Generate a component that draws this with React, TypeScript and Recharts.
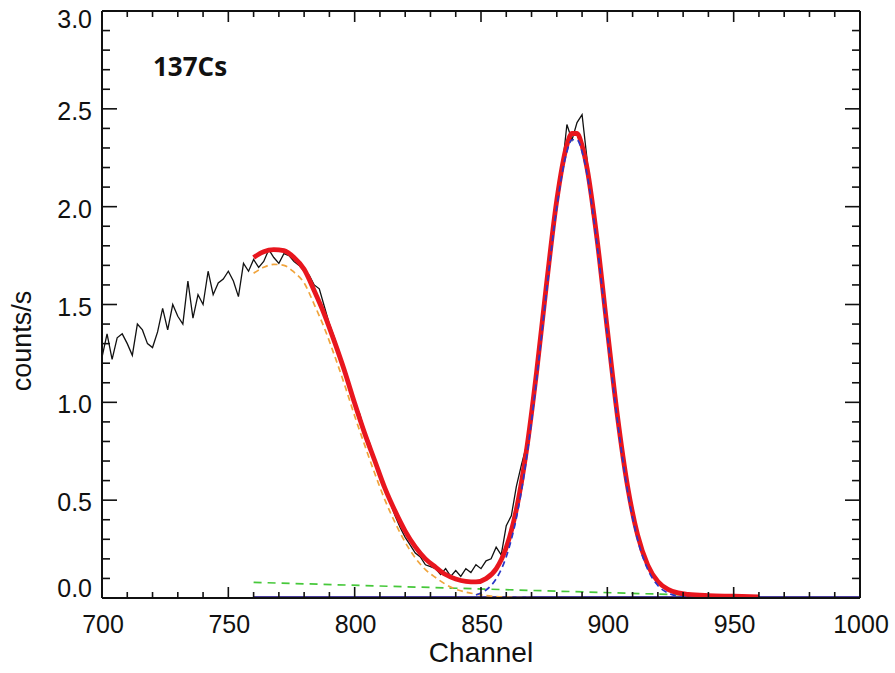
import React from "react";
import { Line, LineChart, XAxis, YAxis } from "recharts";

// measured spectrum, channels 700..960 every 2 channels
const countsStart = 700;
const countsStep = 2;
const counts = [
  1.23, 1.35, 1.22, 1.33, 1.35, 1.3, 1.24, 1.4, 1.37, 1.3,
  1.28, 1.36, 1.48, 1.37, 1.5, 1.44, 1.4, 1.62, 1.43, 1.55,
  1.5, 1.67, 1.55, 1.61, 1.63, 1.67, 1.62, 1.54, 1.71, 1.67,
  1.73, 1.69, 1.72, 1.78, 1.74, 1.71, 1.76, 1.75, 1.72, 1.7,
  1.67, 1.65, 1.6, 1.58, 1.49, 1.4, 1.33, 1.25, 1.17, 1.08,
  1.0, 0.94, 0.85, 0.79, 0.7, 0.63, 0.55, 0.49, 0.42, 0.36,
  0.31, 0.27, 0.23, 0.21, 0.17, 0.16, 0.15, 0.12, 0.15, 0.11,
  0.14, 0.11, 0.15, 0.13, 0.17, 0.15, 0.19, 0.2, 0.26, 0.22,
  0.37, 0.42, 0.57, 0.68, 0.78, 0.98, 1.15, 1.4, 1.6, 1.82,
  2.0, 2.18, 2.42, 2.34, 2.43, 2.47, 2.24, 1.97, 1.84, 1.6,
  1.4, 1.16, 0.95, 0.73, 0.58, 0.44, 0.32, 0.23, 0.16, 0.12,
  0.08, 0.06, 0.04, 0.03, 0.02, 0.02, 0.01, 0.01, 0.01, 0.0,
  0.01, 0.0, 0.0, 0.01, 0.0, 0.0, 0.0, 0.0, 0.0, 0.0,
  0.0,
];

// total fit (red)
const fitCh = [
  760, 764, 768, 772, 776, 780, 784, 788, 792, 796,
  800, 804, 808, 812, 816, 820, 824, 828, 832, 836,
  840, 844, 848, 852, 856, 860, 864, 868, 872, 876,
  880, 884, 886, 888, 890, 892, 896, 900, 904, 908,
  912, 916, 920, 924, 928, 932, 940, 950, 960,
];
const fitVals = [
  1.74, 1.77, 1.78, 1.775, 1.74, 1.68, 1.57, 1.45, 1.31, 1.16,
  0.995, 0.84, 0.7, 0.56, 0.444, 0.342, 0.261, 0.2, 0.158, 0.12,
  0.097, 0.085, 0.082, 0.099, 0.149, 0.258, 0.452, 0.754, 1.155, 1.612,
  2.033, 2.315, 2.375, 2.374, 2.312, 2.195, 1.827, 1.372, 0.931, 0.572,
  0.321, 0.168, 0.084, 0.044, 0.026, 0.019, 0.0125, 0.009, 0.005,
];

// compton edge component (orange dashed)
const comptonCh = [
  760, 764, 768, 772, 776, 780, 784, 788, 792, 796,
  800, 804, 808, 812, 816, 820, 824, 828, 832, 836,
  840, 844, 848, 852, 856, 860, 866, 875, 900, 930, 960,
];
const comptonVals = [
  1.66, 1.69, 1.705, 1.7, 1.665, 1.61, 1.5, 1.38, 1.24, 1.09,
  0.93, 0.78, 0.635, 0.5, 0.385, 0.285, 0.205, 0.145, 0.105, 0.07,
  0.045, 0.03, 0.02, 0.012, 0.007, 0.004, 0.002, 0.001, 0, 0, 0,
];

// photopeak gaussian (blue dashed)
const peakCh = [
  848, 852, 856, 860, 864, 868, 872, 876, 880, 884,
  886, 888, 890, 892, 896, 900, 904, 908, 912, 916,
  920, 924, 928, 932, 940, 950, 960, 970,
];
const peakVals = [
  0.015, 0.041, 0.098, 0.211, 0.409, 0.713, 1.117, 1.575, 1.998, 2.281,
  2.342, 2.342, 2.281, 2.164, 1.798, 1.344, 0.905, 0.547, 0.298, 0.146,
  0.064, 0.0255, 0.009, 0.003, 0, 0, 0, 0,
];

// linear background (green dashed)
const bgCh = [760, 960];
const bgVals = [0.08, 0.005];

const baseCh = [760, 1000];
const baseVals = [0, 0];

const xTicks = [
  700, 710, 720, 730, 740, 750, 760, 770, 780, 790, 800, 810, 820, 830, 840, 850,
  860, 870, 880, 890, 900, 910, 920, 930, 940, 950, 960, 970, 980, 990, 1000,
];
const yTicks = [
  0, 0.1, 0.2, 0.3, 0.4, 0.5, 0.6, 0.7, 0.8, 0.9, 1.0, 1.1, 1.2, 1.3, 1.4, 1.5,
  1.6, 1.7, 1.8, 1.9, 2.0, 2.1, 2.2, 2.3, 2.4, 2.5, 2.6, 2.7, 2.8, 2.9, 3.0,
];

const pairs = (ch: number[], vals: number[]) => ch.map((c, i) => ({ ch: c, v: vals[i] }));

const countsData = counts.map((v, i) => ({ ch: countsStart + i * countsStep, v }));
const fitData = pairs(fitCh, fitVals);
const comptonData = pairs(comptonCh, comptonVals);
const peakData = pairs(peakCh, peakVals);
const bgData = pairs(bgCh, bgVals);
const baseData = pairs(baseCh, baseVals);

const FONT = '"Liberation Sans", Arial, Helvetica, sans-serif';
const INK = "#111";

function XTick(props: any) {
  const { x, y, payload, side } = props;
  const major = Math.round(payload.value) % 50 === 0;
  const len = major ? 11 : 6;
  const dir = side === "bottom" ? -1 : 1;
  return (
    <g>
      <line x1={x} x2={x} y1={y} y2={y + dir * len} stroke={INK} strokeWidth={1.6} />
      {side === "bottom" && major && (
        <text x={x + 1} y={y + 35} textAnchor="middle" fontSize={25} fontFamily={FONT} fill={INK}>
          {payload.value}
        </text>
      )}
    </g>
  );
}

function YTick(props: any) {
  const { x, y, payload, side } = props;
  const tenth = Math.round(payload.value * 10);
  const major = tenth % 5 === 0;
  const len = major ? 15 : 8;
  const dir = side === "left" ? 1 : -1;
  // end labels are kept inside the frame, as in the original plot
  const shift = tenth === 30 ? 8 : tenth === 0 ? -10 : 2;
  return (
    <g>
      <line x1={x} x2={x + dir * len} y1={y} y2={y} stroke={INK} strokeWidth={1.6} />
      {side === "left" && major && (
        <text x={x - 10} y={y + shift} dy="0.36em" textAnchor="end" fontSize={25} fontFamily={FONT} fill={INK}>
          {payload.value.toFixed(1)}
        </text>
      )}
    </g>
  );
}

export default function App() {
  return (
    <div style={{ position: "absolute", left: 0, top: 0, width: 895, height: 673, background: "#fff" }}>
      <LineChart width={895} height={673} margin={{ top: 10, right: 34, bottom: 74, left: 101 }}>
        <XAxis
          xAxisId="b"
          dataKey="ch"
          type="number"
          domain={[700, 1000]}
          allowDataOverflow
          ticks={xTicks}
          interval={0}
          height={1}
          tickSize={0}
          tickMargin={0}
          tickLine={false}
          axisLine={{ stroke: INK, strokeWidth: 2 }}
          tick={(p: any) => <XTick {...p} side="bottom" />}
        />
        <XAxis
          xAxisId="t"
          orientation="top"
          dataKey="ch"
          type="number"
          domain={[700, 1000]}
          allowDataOverflow
          ticks={xTicks}
          interval={0}
          height={1}
          tickSize={0}
          tickMargin={0}
          tickLine={false}
          axisLine={{ stroke: INK, strokeWidth: 2 }}
          tick={(p: any) => <XTick {...p} side="top" />}
        />
        <YAxis
          yAxisId="l"
          type="number"
          domain={[0, 3]}
          allowDataOverflow
          ticks={yTicks}
          interval={0}
          width={1}
          tickSize={0}
          tickMargin={0}
          tickLine={false}
          axisLine={{ stroke: INK, strokeWidth: 2 }}
          tick={(p: any) => <YTick {...p} side="left" />}
        />
        <YAxis
          yAxisId="r"
          orientation="right"
          type="number"
          domain={[0, 3]}
          allowDataOverflow
          ticks={yTicks}
          interval={0}
          width={1}
          tickSize={0}
          tickMargin={0}
          tickLine={false}
          axisLine={{ stroke: INK, strokeWidth: 2 }}
          tick={(p: any) => <YTick {...p} side="right" />}
        />

        <Line xAxisId="t" yAxisId="r" data={baseData} dataKey="v" stroke="none" dot={false} isAnimationActive={false} />
        <Line xAxisId="b" yAxisId="l" data={baseData} dataKey="v" type="linear" stroke="#4a3c9c" strokeWidth={4} dot={false} isAnimationActive={false} />
        <Line xAxisId="b" yAxisId="l" data={bgData} dataKey="v" type="linear" stroke="#46c83a" strokeWidth={1.7} strokeDasharray="8 6" dot={false} isAnimationActive={false} />
        <Line xAxisId="b" yAxisId="l" data={countsData} dataKey="v" type="linear" stroke="#111" strokeWidth={1.3} dot={false} isAnimationActive={false} />
        <Line xAxisId="b" yAxisId="l" data={fitData} dataKey="v" type="monotone" stroke="#e8161e" strokeWidth={4.8} dot={false} isAnimationActive={false} />
        <Line xAxisId="b" yAxisId="l" data={comptonData} dataKey="v" type="monotone" stroke="#f0a43c" strokeWidth={1.7} strokeDasharray="6 4" dot={false} isAnimationActive={false} />
        <Line xAxisId="b" yAxisId="l" data={peakData} dataKey="v" type="monotone" stroke="#2a36c8" strokeWidth={1.7} strokeDasharray="6 4" dot={false} isAnimationActive={false} />
      </LineChart>

      <div
        style={{
          position: "absolute",
          left: 153,
          top: 49,
          fontFamily: '"Open Sans", "Liberation Sans", sans-serif',
          fontWeight: 700,
          fontSize: 26,
          lineHeight: "34px",
          color: INK,
        }}
      >
        137Cs
      </div>
      <div
        style={{
          position: "absolute",
          left: 481,
          top: 638,
          transform: "translateX(-50%)",
          fontFamily: FONT,
          fontSize: 28,
          lineHeight: "30px",
          color: INK,
          whiteSpace: "nowrap",
        }}
      >
        Channel
      </div>
      <div
        style={{
          position: "absolute",
          left: 22,
          top: 341,
          transform: "translate(-50%, -50%) rotate(-90deg)",
          fontFamily: FONT,
          fontSize: 27,
          lineHeight: "30px",
          color: INK,
          whiteSpace: "nowrap",
        }}
      >
        counts/s
      </div>
    </div>
  );
}
